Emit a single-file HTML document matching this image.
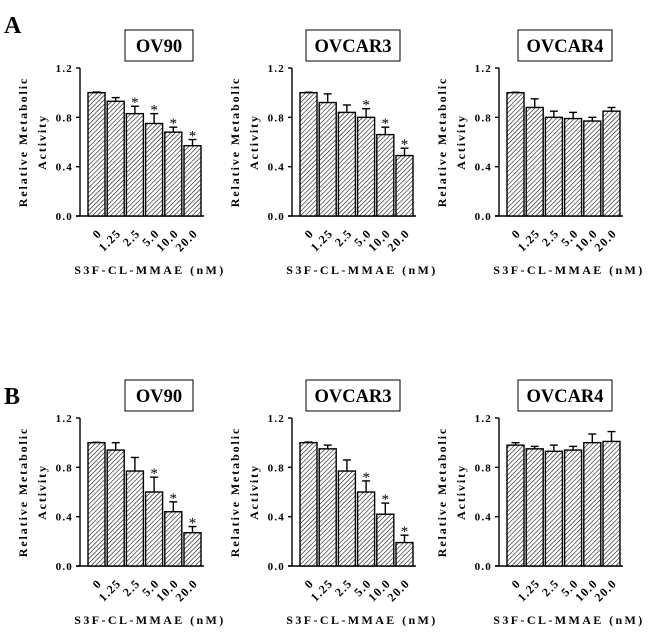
<!DOCTYPE html>
<html><head><meta charset="utf-8"><style>
body{margin:0;background:#fff}
svg{display:block;font-family:"Liberation Serif",serif;font-weight:bold}
</style></head><body>
<svg id="fig" width="650" height="639" viewBox="0 0 650 639" xmlns="http://www.w3.org/2000/svg">
<defs><pattern id="hatch" patternUnits="userSpaceOnUse" width="3.2" height="3.2" patternTransform="rotate(45)"><rect width="3.2" height="3.2" fill="#fff"/><line x1="0" y1="0" x2="0" y2="3.2" stroke="#000" stroke-width="1.1"/></pattern></defs>
<text x="4" y="33" font-size="24">A</text>
<text x="4" y="404" font-size="24">B</text>
</svg>
<script>
const categories=["0","1.25","2.5","5.0","10.0","20.0"];
const yTicks=[0,0.4,0.8,1.2];
const titles=["OV90","OVCAR3","OVCAR4","OV90","OVCAR3","OVCAR4"];
const valsA1=[1.0,0.93,0.83,0.75,0.68,0.57];
const errA1=[0.005,0.03,0.06,0.08,0.04,0.05];
const starA1=[0,0,1,1,1,1];
const valsA2=[1.0,0.92,0.84,0.80,0.66,0.49];
const errA2=[0.003,0.07,0.06,0.07,0.06,0.06];
const starA2=[0,0,0,1,1,1];
const valsA3=[1.0,0.88,0.80,0.79,0.77,0.85];
const errA3=[0.003,0.07,0.05,0.05,0.03,0.03];
const starA3=[0,0,0,0,0,0];
const valsB1=[1.0,0.94,0.77,0.60,0.44,0.27];
const errB1=[0.003,0.06,0.11,0.12,0.08,0.05];
const starB1=[0,0,0,1,1,1];
const valsB2=[1.0,0.95,0.77,0.60,0.42,0.19];
const errB2=[0.005,0.03,0.09,0.09,0.09,0.06];
const starB2=[0,0,0,1,1,1];
const valsB3=[0.98,0.95,0.93,0.94,1.0,1.01];
const errB3=[0.02,0.02,0.05,0.03,0.07,0.08];
const starB3=[0,0,0,0,0,0];
const series=[[valsA1,errA1,starA1],[valsA2,errA2,starA2],[valsA3,errA3,starA3],[valsB1,errB1,starB1],[valsB2,errB2,starB2],[valsB3,errB3,starB3]];
const svg=document.getElementById('fig');
const NS="http://www.w3.org/2000/svg";
function mk(t,a,p){const e=document.createElementNS(NS,t);for(const k in a)e.setAttribute(k,a[k]);(p||svg).appendChild(e);return e;}
const axX=[80,292,499];
const titleOff=[79,61,66];
series.forEach((s,i)=>{
  const col=i%3,row=Math.floor(i/3);
  const ax=axX[col], y0=216+row*350, yTop=68+row*350;
  const g=mk('g',{});
  
  
  const ys=v=>y0-(v/1.2)*(y0-yTop);
  const bw=17;
  const xs=j=>ax+8+j*19.2;
  const tw=titles[i].length*13+16;
  const cx=ax+titleOff[col];
  const r=mk('rect',{x:cx-tw/2,y:yTop-38,width:tw,height:31,fill:'#fff',stroke:'#000','stroke-width':1},g);
  
  
  const tt=mk('text',{x:cx,y:yTop-16,'text-anchor':'middle','font-size':18.5},g);tt.textContent=titles[i];
  
  
  const yl=mk('text',{transform:`translate(${ax-53},${(y0+yTop)/2}) rotate(-90)`,'text-anchor':'middle','font-size':12,'letter-spacing':'1.9'},g);yl.textContent='Relative Metabolic';
  
  
  const yl2=mk('text',{transform:`translate(${ax-34},${(y0+yTop)/2}) rotate(-90)`,'text-anchor':'middle','font-size':12,'letter-spacing':'1.9'},g);yl2.textContent='Activity';
  
  
  const ya=mk('line',{x1:ax,y1:yTop,x2:ax,y2:y0,stroke:'#000','stroke-width':1.4},g);
  
  
  const xa=mk('line',{x1:ax-4,y1:y0,x2:xs(5)+bw+3,y2:y0,stroke:'#000','stroke-width':1.4},g);
  
  
  yTicks.forEach(t=>{
    mk('line',{x1:ax-4,y1:ys(t),x2:ax,y2:ys(t),stroke:'#000','stroke-width':1.4},g);
    const tl=mk('text',{x:ax-7,y:ys(t)+4,'text-anchor':'end','font-size':11,'letter-spacing':'1.2'},g);tl.textContent=t.toFixed(1);
    
    
  });
  const [v,e,st]=s;
  v.forEach((val,j)=>{
    const x=xs(j), mx=x+bw/2;
    const ey=ys(val+e[j]);
    mk('line',{x1:mx,y1:ys(val),x2:mx,y2:ey,stroke:'#000','stroke-width':1.4},g);
    mk('line',{x1:mx-4,y1:ey,x2:mx+4,y2:ey,stroke:'#000','stroke-width':1.4},g);
    const b=mk('rect',{x:x,y:ys(val),width:bw,height:y0-ys(val),fill:'url(#hatch)',stroke:'#000','stroke-width':1.4},g);
    
    
    if(st[j]){const s2=mk('text',{x:mx,y:ey+1,'text-anchor':'middle','font-size':15,'font-weight':'normal'},g);s2.textContent='*';
      
      }
    const xl=mk('text',{transform:`translate(${mx+6},${y0+18}) rotate(-45)`,'text-anchor':'end','font-size':12,'letter-spacing':'1.2'},g);xl.textContent=categories[j];
    
    
  });
  const xt=mk('text',{x:ax+70,y:y0+58,'text-anchor':'middle','font-size':12,'letter-spacing':'2.4'},g);xt.textContent='S3F-CL-MMAE (nM)';
  
  
});
</script>
</body></html>
